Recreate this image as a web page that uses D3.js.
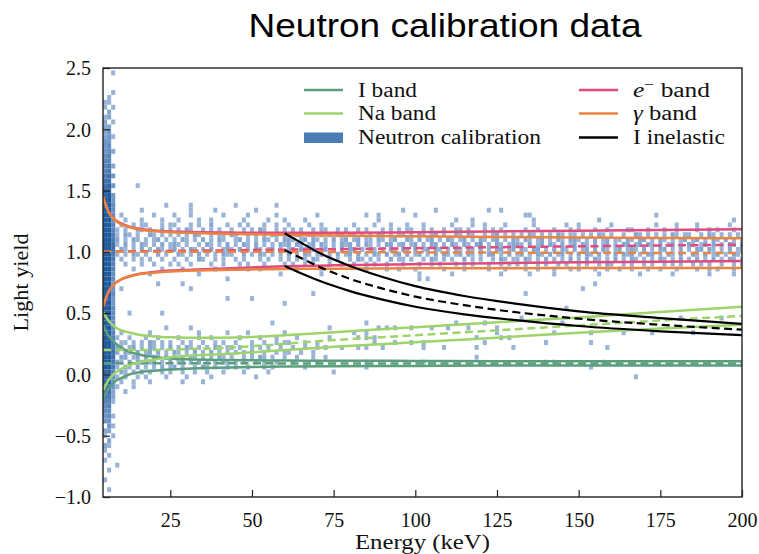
<!DOCTYPE html>
<html>
<head>
<meta charset="utf-8">
<script src="https://cdn.jsdelivr.net/npm/d3@7"></script>
<style>
  body { margin: 0; background: #fff; }
  svg { display: block; }
</style>
</head>
<body>
<svg id="chart" width="759" height="554"></svg>
<script>
// ---------------- data ----------------
// energy samples (keV) for the band curves
const bandEnergy = [4.4, 6, 8, 10, 12, 15, 20, 25, 30, 40, 50, 60, 75, 100, 125, 150, 175, 200];

const iBandUpper = [0.40, 0.32, 0.26, 0.22, 0.19, 0.165, 0.143, 0.13, 0.123, 0.117, 0.115, 0.113, 0.112, 0.11, 0.108, 0.108, 0.108, 0.108];
const iBandMean  = [0.092, 0.092, 0.092, 0.092, 0.092, 0.092, 0.092, 0.092, 0.092, 0.091, 0.091, 0.09, 0.09, 0.09, 0.09, 0.09, 0.09, 0.09];
const iBandLower = [-0.20, -0.12, -0.06, -0.03, -0.005, 0.015, 0.03, 0.04, 0.047, 0.055, 0.06, 0.064, 0.066, 0.069, 0.072, 0.072, 0.072, 0.072];

const naBandUpper = [0.51, 0.44, 0.39, 0.36, 0.345, 0.325, 0.31, 0.303, 0.30, 0.30, 0.305, 0.32, 0.345, 0.385, 0.425, 0.465, 0.51, 0.553];
const naBandMean  = [0.20, 0.20, 0.20, 0.20, 0.20, 0.20, 0.20, 0.203, 0.207, 0.215, 0.23, 0.25, 0.28, 0.32, 0.36, 0.40, 0.44, 0.478];
const naBandLower = [-0.13, -0.05, 0.01, 0.045, 0.07, 0.095, 0.12, 0.14, 0.15, 0.165, 0.18, 0.20, 0.225, 0.262, 0.30, 0.34, 0.375, 0.405];

const eBandUpper = [1.45, 1.335, 1.265, 1.23, 1.21, 1.19, 1.175, 1.167, 1.163, 1.158, 1.155, 1.155, 1.155, 1.16, 1.167, 1.173, 1.179, 1.185];
const eBandMean  = [1.0, 1.0, 1.002, 1.003, 1.004, 1.005, 1.006, 1.008, 1.009, 1.012, 1.015, 1.018, 1.022, 1.03, 1.038, 1.045, 1.052, 1.058];
const eBandLower = [0.55, 0.665, 0.74, 0.776, 0.797, 0.818, 0.835, 0.847, 0.853, 0.862, 0.873, 0.882, 0.89, 0.90, 0.908, 0.915, 0.92, 0.926];

const gammaBandUpper = [1.45, 1.33, 1.26, 1.225, 1.205, 1.185, 1.17, 1.16, 1.155, 1.148, 1.143, 1.138, 1.133, 1.127, 1.122, 1.117, 1.113, 1.11];
const gammaBandMean  = [1.0, 1.0, 1.0, 1.0, 1.0, 1.0, 1.0, 1.0, 1.0, 1.0, 1.0, 1.0, 0.998, 0.996, 0.994, 0.993, 0.991, 0.99];
const gammaBandLower = [0.55, 0.67, 0.74, 0.775, 0.795, 0.815, 0.83, 0.84, 0.845, 0.852, 0.857, 0.86, 0.863, 0.866, 0.867, 0.868, 0.868, 0.869];

// iodine inelastic line (57.6 keV gamma + recoil)
const inelasticEnergy = [60, 65, 70, 80, 90, 100, 115, 130, 150, 175, 200];
const inelasticUpper  = [1.152, 1.075, 1.0, 0.885, 0.795, 0.72, 0.64, 0.58, 0.515, 0.46, 0.412];
const inelasticMean   = [1.016, 0.95, 0.885, 0.78, 0.70, 0.635, 0.565, 0.51, 0.455, 0.405, 0.365];
const inelasticLower  = [0.885, 0.825, 0.77, 0.68, 0.61, 0.552, 0.49, 0.445, 0.395, 0.352, 0.32];

const xTicks = [25, 50, 75, 100, 125, 150, 175, 200];
const yTicks = [-1.0, -0.5, 0.0, 0.5, 1.0, 1.5, 2.0, 2.5];

// neutron calibration 2D histogram: bins of 1.25 keV from 4.4 keV, 0.04 light yield from -1.0
const histEnergyStart = 4.4, histEnergyStep = 1.25;
const histYieldStart = -1.0, histYieldStep = 0.04;
// [row index, counts per energy column ('.' = empty)]
const histRows = [
  [86, "..1"], [82, "..1"], [81, ".1"], [80, "11"], [79, "1.1"], [78, ".2"], [77, "12"],
  [76, "2.1"], [75, "22"], [74, "23"], [73, "231"], [72, "33"], [71, "34"], [70, "342"],
  [69, "45"], [68, "55"], [67, "562"], [66, "56"], [65, "673"], [64, "77"], [63, "783"],
  [62, "88"], [61, "893"], [60, "993"],
  [59, "994" + "............1." + "....1........." + ".1.........1.."],
  [58, "994" + "......1......." + "....1.....1..." + "......1......." + ".............." + ".............." + "1.......1....." + ".......1..1..."],
  [57, "994" + ".1.......1...." + "1...1.......1." + "....1......1.." + ".......1......" + ".....1..1....." + "...1.........." + ".............." + "..11.........." + ".............." + "......1......."],
  [56, "994" + "..1...1....1.." + ".1....1..1...." + "...1.....1...1" + "....1........." + "........1....." + ".............1" + "...1.........." + "....1........." + "......1......." + ".............." + "...........1.."],
  [55, "995" + ".1..1.11...1.1" + "1...1.1..2...1" + "..1.1...1..1.." + "1....1..1....." + "..1....1...1.." + ".1...1......1." + "...1..1....1.." + "....1.......1." + ".1.......1...." + "......1....1.." + "..1.......1..."],
  [54, "995" + "1.1..11.1..2.1" + ".1.21..1.1.1.." + "1..1.1.21..1.1" + ".1.1..1.11..1." + "1..1.1...1.1.1" + ".11..1.1..1..1" + "1.1...1.1.1..." + "..1..1...1...1" + ".1...1..1....1" + "1...1...1..1.." + "..1..1.1...1.."],
  [53, "996" + "1.21.1..21.1.1" + ".1.1.21..1.11." + "21..1.1.1.21.1" + "1.21.12.1.1.21" + ".12.1.1.21.1.1" + "1.1.21.12.1..2" + "1.21..1.12.1.1" + ".1.21.1.1.21.1" + "1.1.1.21.1..1." + ".21.1.1.1.21.1" + "1..1.21.1.1.1."],
  [52, "996" + "2.1.21.1.12.1." + "1.21.1.2.1.21." + ".12.1.1.21.1.2" + "21.12.21.1.2.1" + "2.12.11.21.12." + ".21.2.12.1.21." + "12.1.21.12.1.2" + "1.21.12.1.21.2" + "21.1.2.12.11.2" + "1.22.1.21.1.12" + ".12.1.21.2.1.1"],
  [51, "997" + "1.2.1.21.1.2.1" + "21.1..1.21.1.2" + ".1.21.2.1.1.21" + "2.21.12.21.1.2" + "12.2.21.1.22.1" + "2.12.1.22.1.21" + ".21.23.1.21.12" + "21.2.12.21.2.1" + "2.21.2.12.1.22" + ".12.21.2.12.1." + "21.12.2.1.21.2"],
  [50, "997" + ".21.1.2.1.21.1" + "2.1.21.1.2..12" + "1.2.1.21.12.1." + "12.21.2.12.1.2" + ".22.1.21.2.21." + "21.2.12.21.1.2" + "1.21.2.1.22.12" + ".21.22.1.2.21." + "2.12.2.21.12.1" + "21.2.1.22.1.2." + "1.22.21.1.2.12"],
  [49, "996" + "1.1.21.1..2.1." + ".21.1.2.1.1.21" + "1..2.1.21.1.1." + "2.1.21.12.1.2." + "12.2.1.21.2.12" + ".2.12.1.2.21.1" + "2.21.1.22.1.2." + "12.1.21.2.12.1" + ".2.21.2.1.2.21" + "2.1.22.1.21.2." + ".21.2.12.1.21."],
  [48, "996" + ".1..1.1.1..1.." + "1..1..21..1.1." + ".1.1...1.1..1." + "1.1.1.21..1.1." + ".1.21.1.1..2.1" + "1.1..1.21.1.1." + ".2.1.1..1.21.1" + "1.21.1.2.1.1.2" + ".1.2.21.1.2.1." + "21.1.1.21.1.2." + "1.2.1.2.1.21.1"],
  [47, "995" + "..1...1..1...1" + ".1..1....1..1." + "..1.1...1....1" + ".1..1.1...1..1" + "..1..1.1..1..." + "1...1..1.1...1" + ".1.1...1..1.1." + "1.1..1.1..1.1." + ".1.1..1.21..1." + "1..1.1..1.1.1." + ".1.1.1..1..1.1"],
  [46, "995" + "....1......1.." + "..1.......1..." + "....1..1......" + "..1.....1....." + ".....1....1..1" + "...1......1..." + ".1.....1...1.." + "..1..1...1...1" + ".1...1..1..1.." + "1...1..1...1.." + "..1..1.1...1.."],
  [45, "994" + "........1....." + "......1......." + "............1." + "........1....." + ".............." + "....1.......1." + "..........1..." + "...1.....1...." + "......1......." + "..1.......1..." + ".....1.....1.."],
  [44, "994"], [43, "993"], [42, "993"], [41, "994"], [40, "983"], [39, "993"], [38, "994"],
  [37, "994" + "...1.......1.."],
  [36, "994"],
  [35, "994" + ".............." + ".............." + "..........1..."],
  [34, "994" + "............1." + "....1........."],
  [33, "995" + ".1......1....." + "......1......1" + "....1........1"],
  [32, "995" + "1..1...1..1..." + ".1....1..1...." + "..1....1...1.." + "..1.......1..."],
  [31, "996" + ".11.1.1.21.1.1" + "..1.1..1..1.1." + ".1...1..1..1.1" + "1...1..1......"],
  [30, "996" + "21.12.1.21.1.2" + ".1.21.1.1.21.1" + "1.1..1.1.1..1." + ".1..1....1...1"],
  [29, "997" + "2.21.2.12.2.1." + "21.1.2.1.2.1.1" + ".1.1.2..1..1.1" + "1..1..1......."],
  [28, "997" + ".22.12.2.21.2." + "1.2.21.1.1.21." + "1..1.1.21.1..1" + "..1...1..1...."],
  [27, "996" + "21.2.21.12.1.2" + ".12.1.2.1.1.21" + ".1.1..1.1..1.." + ".1.....1......"],
  [26, "996" + "1.21.2.1.1.2.1" + "2.1..1.21.1..1" + ".1..1...1.1..." + "....1........."],
  [25, "885" + ".21.1.2.1..1.1" + "..1..1..1...1." + "...1.....1...."],
  [24, "884" + "1.1..1.1....1." + "...1.....1...." + "......1......."],
  [23, "883" + ".1..1...1....." + "..1..........."],
  [22, "773" + "1...1........."],
  [21, "772" + "..1"], [20, "662"], [19, "551"], [18, "45"], [17, "44"], [16, "341"],
  [15, "33"], [14, ".31"], [13, "22"], [12, "1.1"], [11, ".2"], [10, "21"], [9, "1"],
  [8, ".1"], [7, "1"], [6, "...1"], [5, ".1"], [3, "1"], [1, ".1"]
];
// isolated single events [energy keV, light yield]
const singleEvents = [
  [14.7, 1.52], [9.6, 0.69], [21.8, 0.73], [29, 0.73], [31.5, 0.69], [42.7, 0.77], [42.7, 0.635],
  [50.4, 0.635], [59.6, 0.59], [68.3, 0.66], [101.3, 0.77], [104, 0.77], [134, 0.65], [151.7, 0.69],
  [155.3, 0.73], [146.4, 0.553], [35, -0.06], [74.8, 0.02], [167.6, -0.02],
  [73.3, 0.376], [85.5, 0.417], [85.5, 0.335], [85.5, 0.28], [89, 0.376], [91.6, 0.376], [94.2, 0.376],
  [81.4, 0.335], [82.8, 0.29], [87, 0.30], [87, 0.265], [89.6, 0.2], [83, 0.2], [85.5, 0.2], [93.2, 0.24],
  [99.3, 0.376], [98.8, 0.24], [102.3, 0.24], [102.3, 0.2], [105.4, 0.376], [109, 0.2], [110, 0.376],
  [112.6, 0.417], [116, 0.376], [118.7, 0.28], [118.7, 0.2], [118.7, 0.16], [121.2, 0.417], [121.2, 0.24],
  [124.5, 0.376], [125.8, 0.31], [128.4, 0.28], [129.4, 0.2], [133, 0.45], [124.7, 0.337], [69.7, 0.2],
  [84.5, 0.117], [102.9, 0.117], [84.5, 0.07], [145.1, 0.43], [140.5, 0.24], [143, 0.335],
  [154.3, 0.32], [154.3, 0.24], [158.9, 0.2], [164, 0.335], [172.7, 0.335], [185, 0.335], [180.8, 0.457],
  [194.3, 0.46], [139.5, 0.117], [142, 0.117], [154.3, 0.062], [157.9, 0.117]
];

// ---------------- layout ----------------
const svg = d3.select("#chart");
const plot = { left: 103, right: 742, top: 68, bottom: 497 };
const x = d3.scaleLinear().domain([4.4, 200]).range([plot.left, plot.right]);
const y = d3.scaleLinear().domain([-1.0, 2.5]).range([plot.bottom, plot.top]);

const serif = "'Liberation Serif', 'Times New Roman', serif";
const colors = {
  iBand: "#5a9e7c",
  naBand: "#9ed46a",
  eBand: "#e24a7d",
  gammaBand: "#eb8441",
  inelastic: "#000000",
  neutron: "#4a7eb5"
};

svg.append("defs").append("clipPath").attr("id", "plotClip")
  .append("rect")
  .attr("x", plot.left).attr("y", plot.top)
  .attr("width", plot.right - plot.left).attr("height", plot.bottom - plot.top);

// ---------------- histogram ----------------
const cellMap = new Map();
histRows.forEach(([r, s]) => {
  for (let c = 0; c < s.length; c++) {
    const ch = s[c];
    if (ch >= "1" && ch <= "9") cellMap.set(c + "," + r, +ch);
  }
});
singleEvents.forEach(([e, ly]) => {
  const c = Math.floor((e - histEnergyStart) / histEnergyStep);
  const r = Math.floor((ly - histYieldStart) / histYieldStep);
  const k = c + "," + r;
  if (!cellMap.has(k)) cellMap.set(k, 1);
});
const cells = Array.from(cellMap, ([k, v]) => {
  const [c, r] = k.split(",").map(Number);
  return { c, r, v };
});
const cellColor = d3.scaleLinear().domain([1, 3, 9])
  .range(["#9ab4d7", "#6f98c8", "#1f5b9c"]).interpolate(d3.interpolateLab);

svg.append("g").attr("clip-path", "url(#plotClip)")
  .selectAll("rect").data(cells).join("rect")
  .attr("x", d => x(histEnergyStart + d.c * histEnergyStep))
  .attr("width", d => x(histEnergyStart + (d.c + 1) * histEnergyStep) - x(histEnergyStart + d.c * histEnergyStep))
  .attr("y", d => y(histYieldStart + (d.r + 1) * histYieldStep))
  .attr("height", d => y(histYieldStart + d.r * histYieldStep) - y(histYieldStart + (d.r + 1) * histYieldStep))
  .attr("fill", d => cellColor(d.v));

// ---------------- band curves ----------------
const curves = svg.append("g").attr("clip-path", "url(#plotClip)").attr("fill", "none");
function drawCurve(xs, ys, color, dashed, width) {
  const line = d3.line().x(d => x(d[0])).y(d => y(d[1])).curve(d3.curveMonotoneX);
  curves.append("path")
    .attr("d", line(xs.map((e, i) => [e, ys[i]])))
    .attr("stroke", color)
    .attr("stroke-width", width)
    .attr("stroke-dasharray", dashed ? "8,4.5" : null);
}
function drawBand(xs, upper, mean, lower, color, width) {
  drawCurve(xs, upper, color, false, width);
  drawCurve(xs, lower, color, false, width);
  drawCurve(xs, mean, color, true, width);
}
drawBand(bandEnergy, iBandUpper, iBandMean, iBandLower, colors.iBand, 2.5);
drawBand(bandEnergy, naBandUpper, naBandMean, naBandLower, colors.naBand, 2.5);
drawBand(bandEnergy, eBandUpper, eBandMean, eBandLower, colors.eBand, 2.5);
drawBand(bandEnergy, gammaBandUpper, gammaBandMean, gammaBandLower, colors.gammaBand, 2.5);
drawBand(inelasticEnergy, inelasticUpper, inelasticMean, inelasticLower, colors.inelastic, 2.2);

// ---------------- axes ----------------
function fmt(v) { return (v < 0 ? "\u2212" : "") + Math.abs(v).toFixed(1); }

const xAxis = svg.append("g").attr("transform", `translate(0,${plot.bottom})`)
  .call(d3.axisBottom(x).tickValues(xTicks).tickSize(-7).tickPadding(16).tickFormat(d3.format("d")));
const yAxis = svg.append("g").attr("transform", `translate(${plot.left},0)`)
  .call(d3.axisLeft(y).tickValues(yTicks).tickSize(-7).tickPadding(12).tickFormat(fmt));
[xAxis, yAxis].forEach(g => {
  g.select(".domain").remove();
  g.selectAll(".tick line").attr("stroke", "#222").attr("stroke-width", 1.2);
  g.selectAll(".tick text").attr("fill", "#111").style("font-family", serif).style("font-size", "20px");
});
yAxis.selectAll(".tick text").attr("dy", "0.34em");

// frame
svg.append("rect")
  .attr("x", plot.left).attr("y", plot.top)
  .attr("width", plot.right - plot.left).attr("height", plot.bottom - plot.top)
  .attr("fill", "none").attr("stroke", "#222").attr("stroke-width", 1.4);

// axis titles
svg.append("text")
  .attr("x", (plot.left + plot.right) / 2).attr("y", 549)
  .attr("text-anchor", "middle")
  .attr("textLength", 135).attr("lengthAdjust", "spacingAndGlyphs")
  .style("font-family", serif).style("font-size", "20px").attr("fill", "#111")
  .text("Energy (keV)");
svg.append("text")
  .attr("transform", `translate(28,${(plot.top + plot.bottom) / 2}) rotate(-90)`)
  .attr("text-anchor", "middle")
  .attr("textLength", 98).attr("lengthAdjust", "spacingAndGlyphs")
  .style("font-family", serif).style("font-size", "20px").attr("fill", "#111")
  .text("Light yield");

// title
svg.append("text")
  .attr("x", 445).attr("y", 37)
  .attr("text-anchor", "middle")
  .attr("textLength", 393).attr("lengthAdjust", "spacingAndGlyphs")
  .style("font-family", "'Liberation Sans', Arial, sans-serif").style("font-size", "33px")
  .attr("fill", "#000")
  .text("Neutron calibration data");

// ---------------- legend ----------------
const legend = svg.append("g").style("font-family", serif).style("font-size", "20px").attr("fill", "#111");
const legendItems = [
  { col: 0, row: 0, kind: "line", color: colors.iBand, label: "I band", w: 59 },
  { col: 0, row: 1, kind: "line", color: colors.naBand, label: "Na band", w: 78 },
  { col: 0, row: 2, kind: "patch", color: colors.neutron, label: "Neutron calibration", w: 183 },
  { col: 1, row: 0, kind: "line", color: colors.eBand, label: "e", w: 77 },
  { col: 1, row: 1, kind: "line", color: colors.gammaBand, label: "\u03b3", w: 64 },
  { col: 1, row: 2, kind: "line", color: colors.inelastic, label: "I inelastic", w: 92 }
];
const colX = [304, 579], rowY = [90, 113.5, 137.5];
legendItems.forEach(it => {
  const x0 = colX[it.col], yy = rowY[it.row];
  if (it.kind === "line") {
    legend.append("line").attr("x1", x0).attr("x2", x0 + 39).attr("y1", yy).attr("y2", yy)
      .attr("stroke", it.color).attr("stroke-width", 2.5);
  } else {
    legend.append("rect").attr("x", x0).attr("y", yy - 5).attr("width", 39).attr("height", 10.5)
      .attr("fill", it.color);
  }
  const t = legend.append("text").attr("x", x0 + 54).attr("y", yy + 6.5)
    .attr("textLength", it.w).attr("lengthAdjust", "spacingAndGlyphs");
  if (it.label === "e") {
    t.append("tspan").style("font-style", "italic").text("e");
    t.append("tspan").attr("dy", -8).style("font-size", "14px").text("\u2212");
    t.append("tspan").attr("dy", 8).text(" band");
  } else if (it.label === "\u03b3") {
    t.append("tspan").style("font-style", "italic").text("\u03b3");
    t.append("tspan").text(" band");
  } else {
    t.text(it.label);
  }
});
</script>
</body>
</html>
